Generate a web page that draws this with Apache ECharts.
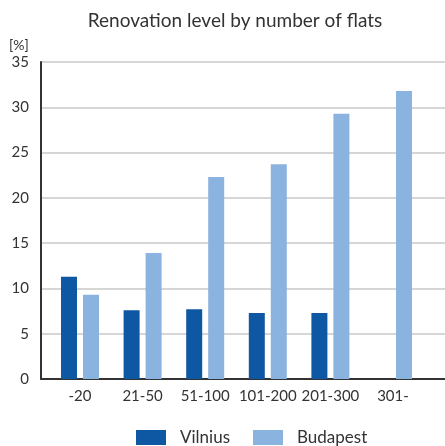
<!DOCTYPE html>
<html><head><meta charset="utf-8">
<script src="https://cdn.jsdelivr.net/npm/echarts@6/dist/echarts.min.js"></script>
<style>html,body{margin:0;padding:0;background:#fff}#c{width:445px;height:446px}</style>
</head><body><div id="c"></div>
<script>
const categories = ['-20', '21-50', '51-100', '101-200', '201-300', '301-'];
const vilnius = [11.3, 7.6, 7.7, 7.3, 7.3, null];
const budapest = [9.3, 13.9, 22.3, 23.7, 29.3, 31.8];
const yTicks = { min: 0, max: 35, interval: 5 };

const chart = echarts.init(document.getElementById('c'));
const font = 'Lato';
chart.setOption({
  animation: false,
  textStyle: { fontFamily: font },
  title: [
    { text: 'Renovation level by number of flats', left: 235, textAlign: 'center', top: 11, padding: 0,
      textStyle: { fontSize: 19, fontWeight: 'normal', color: '#333', fontFamily: font } },
    { text: '[%]', left: 9, top: 38, padding: 0,
      textStyle: { fontSize: 14, fontWeight: 'normal', color: '#333', fontFamily: font } }
  ],
  legend: {
    top: 429, left: 136, padding: 0, itemWidth: 30, itemHeight: 15, itemGap: 23,
    icon: 'rect',
    textStyle: { fontSize: 17, color: '#333', padding: [0, 0, 0, 9], fontFamily: font },
    data: ['Vilnius', 'Budapest']
  },
  grid: [
    { left: 48.7, right: 20.7, top: 62, bottom: 67 },
    { left: 41, right: 0, top: 62, bottom: 67 }
  ],
  xAxis: [
    { type: 'category', data: categories, gridIndex: 0,
      axisLine: { show: false }, axisTick: { show: false },
      axisLabel: { color: '#333', fontSize: 15, margin: 10, interval: 0, fontFamily: font } },
    { type: 'value', gridIndex: 1, min: 0, max: 1, show: true,
      axisLine: { show: true, onZero: false, lineStyle: { color: '#333', width: 2 } },
      axisTick: { show: false }, axisLabel: { show: false }, splitLine: { show: false } }
  ],
  yAxis: [
    { type: 'value', gridIndex: 0, min: yTicks.min, max: yTicks.max, interval: yTicks.interval,
      axisLabel: { show: false }, axisLine: { show: false }, axisTick: { show: false },
      splitLine: { show: false } },
    { type: 'value', gridIndex: 1, min: yTicks.min, max: yTicks.max, interval: yTicks.interval,
      axisLabel: { color: '#333', fontSize: 15, margin: 12, fontFamily: font },
      axisLine: { show: true, lineStyle: { color: '#333', width: 2 } },
      axisTick: { show: false },
      splitLine: { show: true, lineStyle: { color: '#c8c8c8', width: 1.5 } } }
  ],
  series: [
    { name: 'Vilnius', type: 'bar', data: vilnius, xAxisIndex: 0, yAxisIndex: 0,
      barWidth: 16, barGap: '37.5%', itemStyle: { color: '#0e57a2' }, z: 3 },
    { name: 'Budapest', type: 'bar', data: budapest, xAxisIndex: 0, yAxisIndex: 0,
      barWidth: 16, barGap: '37.5%', itemStyle: { color: '#8ab3e0' }, z: 3 }
  ]
});
</script></body></html>
